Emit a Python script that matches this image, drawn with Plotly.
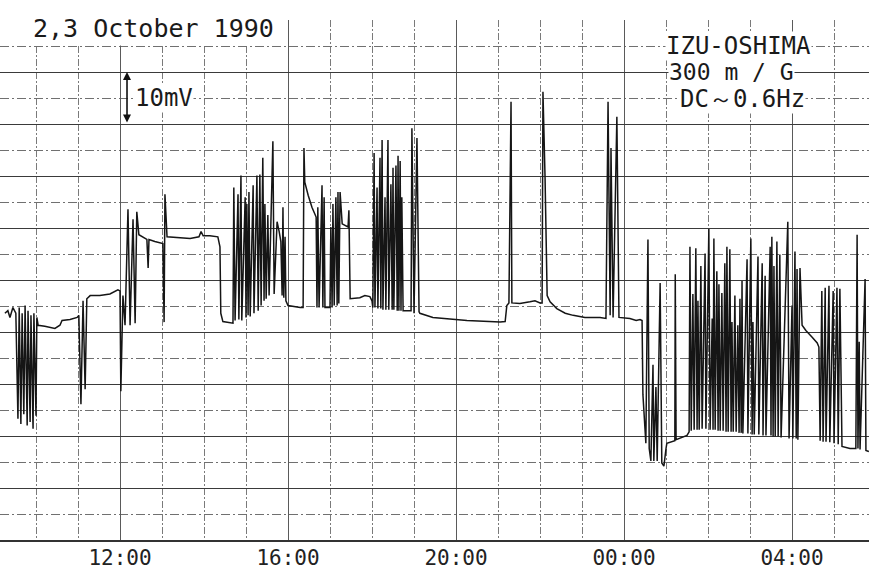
import plotly.graph_objects as go

# Time axis: hours from 00:00 on 2 Oct 1990 (24 = 00:00 on 3 Oct); potential in mV
tick_hours = [12, 16, 20, 24, 28]
tick_labels = ["12:00", "16:00", "20:00", "00:00", "04:00"]

t_morning = [9.26, 9.33, 9.38, 9.45, 9.52, 9.57, 9.60, 9.64, 9.67, 9.71, 9.74, 9.79, 9.81, 9.86, 9.88,
             9.93, 9.95, 10.00, 10.02, 10.05, 10.21, 10.45, 10.57, 10.62, 10.81, 10.98, 11.02, 11.07,
             11.12, 11.17, 11.21, 11.29, 11.52, 11.76, 11.95, 12.00]
mv_morning = [43.6, 44.1, 42.8, 44.7, 43.6, 23.3, 44.7, 22.3, 43.6, 24.2, 45.1, 22.0, 44.1, 22.7, 43.2,
              21.4, 43.6, 23.9, 42.8, 41.3, 41.1, 40.7, 41.3, 42.2, 42.4, 42.8, 43.2, 26.1,
              46.0, 29.0, 46.4, 47.0, 47.0, 47.3, 48.1, 47.9]

t_noon = [12.02, 12.07, 12.12, 12.19, 12.24, 12.31, 12.36, 12.40, 12.45, 12.60, 12.64, 12.67, 12.69,
          12.83, 13.02, 13.05, 13.07, 13.12, 13.43, 13.67, 13.88, 13.93, 13.98, 14.14, 14.33, 14.38,
          14.40, 14.45, 14.69]
mv_noon = [28.6, 47.0, 41.3, 63.6, 41.3, 61.7, 41.7, 63.1, 58.7, 58.1, 57.8, 52.3, 57.8,
           57.4, 57.0, 41.9, 66.5, 58.3, 58.1, 58.0, 58.3, 59.3, 58.5, 58.5, 58.3, 56.4,
           43.6, 42.0, 41.7]

t_cluster1 = [14.71, 14.74, 14.81, 14.83, 14.88, 14.90, 14.98, 15.00, 15.02, 15.05, 15.07, 15.10,
              15.17, 15.19, 15.26, 15.29, 15.33, 15.36, 15.40, 15.43, 15.45, 15.48, 15.52, 15.55,
              15.64, 15.67, 15.74, 15.79, 15.83, 15.86, 15.88, 15.90, 15.93, 15.95, 16.00]
mv_cluster1 = [67.8, 42.2, 66.5, 42.4, 70.1, 42.2, 65.9, 42.8, 64.6, 43.2, 66.9, 43.0,
               68.2, 43.6, 70.1, 44.1, 70.3, 45.1, 73.5, 46.0, 64.6, 46.4, 62.5, 47.0,
               76.7, 47.3, 61.2, 59.3, 57.4, 47.0, 64.0, 46.6, 58.3, 46.0, 45.1]

t_afternoon = [16.29, 16.36, 16.38, 16.40, 16.48, 16.57, 16.67, 16.69, 16.71, 16.74, 16.81, 16.83,
               16.86, 16.88, 17.00, 17.02, 17.05, 17.07, 17.10, 17.14, 17.17, 17.19, 17.21, 17.24,
               17.29, 17.43, 17.45, 17.48, 17.71, 17.83, 17.95, 18.00]
mv_afternoon = [44.7, 44.7, 75.4, 68.8, 66.3, 64.0, 62.1, 44.7, 64.0, 44.7, 68.2, 44.7,
                65.9, 44.7, 44.7, 60.2, 44.7, 64.6, 45.1, 65.9, 45.1, 66.9, 45.5, 66.9,
                60.8, 60.2, 63.4, 46.4, 46.6, 47.0, 46.8, 46.0]

t_evening = [18.02, 18.05, 18.07, 18.12, 18.14, 18.19, 18.21, 18.24, 18.26, 18.31, 18.33, 18.38,
             18.40, 18.45, 18.48, 18.50, 18.52, 18.57, 18.60, 18.62, 18.64, 18.67, 18.69, 18.71,
             18.74, 18.93, 18.95, 19.00, 19.07, 19.12, 19.14, 19.45, 20.26, 21.05, 21.17, 21.21,
             21.26, 21.31, 21.33, 21.52, 21.76, 21.88, 22.00, 22.05, 22.07, 22.12, 22.17, 22.24,
             22.40, 22.60, 22.79, 23.07, 23.43, 23.57, 23.62, 23.67, 23.69, 23.74, 23.83, 23.88,
             24.14, 24.29, 24.38, 24.43]
mv_evening = [44.7, 74.4, 44.7, 67.8, 44.5, 73.5, 44.5, 76.9, 44.3, 65.9, 44.3, 76.9,
              44.3, 68.4, 44.3, 71.6, 44.3, 72.0, 44.1, 73.9, 44.1, 72.9, 44.1, 65.9,
              44.1, 44.1, 79.2, 43.6, 77.3, 43.9, 43.6, 42.8, 42.2, 41.9, 42.0, 45.1,
              45.6, 84.3, 45.6, 45.5, 45.8, 46.0, 45.6, 45.6, 86.2, 69.7, 47.0, 45.8,
              44.5, 43.6, 43.2, 42.8, 42.8, 42.6, 84.3, 43.2, 75.4, 42.8, 81.4, 42.8,
              42.6, 42.2, 42.4, 42.2]

t_night = [24.45, 24.52, 24.57, 24.60, 24.64, 24.69, 24.71, 24.76, 24.79, 24.86, 24.90, 24.95,
           25.00, 25.02, 25.21, 25.22, 25.24, 25.50, 25.55]
mv_night = [28.0, 18.6, 57.8, 17.6, 15.2, 33.7, 15.2, 29.4, 15.2, 49.4, 14.8, 14.2,
            17.6, 18.6, 19.1, 51.1, 19.3, 20.1, 20.8]

t_cluster3 = [25.57, 25.60, 25.64, 25.67, 25.71, 25.74, 25.76, 25.79, 25.83, 25.86, 25.93, 25.95,
              26.02, 26.05, 26.10, 26.12, 26.14, 26.17, 26.21, 26.24, 26.26, 26.29, 26.33, 26.36,
              26.40, 26.43, 26.45, 26.48, 26.52, 26.55, 26.57, 26.60, 26.64, 26.67, 26.71, 26.74,
              26.76, 26.79, 26.81, 26.83, 26.93, 26.95, 27.02, 27.05, 27.07, 27.10, 27.19, 27.21,
              27.29, 27.31, 27.36, 27.38, 27.48, 27.50, 27.52, 27.55, 27.57, 27.60, 27.64, 27.67,
              27.71, 27.74, 27.90, 27.93, 28.00, 28.02, 28.07, 28.10, 28.12, 28.14, 28.19]
mv_cluster3 = [56.4, 21.0, 47.3, 21.2, 56.1, 21.2, 46.0, 21.2, 52.7, 21.4, 55.1, 21.4,
               59.8, 21.2, 42.6, 21.2, 58.0, 21.2, 51.7, 21.0, 49.2, 21.0, 47.5, 21.0,
               53.2, 20.8, 56.4, 20.8, 55.9, 20.8, 41.9, 20.8, 47.0, 20.8, 41.3, 20.6,
               46.4, 20.6, 49.8, 20.5, 54.0, 20.5, 58.0, 20.3, 41.9, 20.3, 54.5, 20.3,
               53.2, 20.1, 50.8, 20.1, 56.4, 20.1, 58.3, 19.9, 52.7, 19.9, 57.4, 19.9,
               54.9, 19.7, 61.2, 19.5, 45.1, 19.5, 55.5, 19.5, 52.1, 19.3, 52.3]

t_dawn = [28.24, 28.33, 28.48, 28.60, 28.64, 28.67, 28.71, 28.74, 28.79, 28.81, 28.88, 28.90,
          28.98, 29.00, 29.07, 29.10, 29.14, 29.19, 29.38, 29.52, 29.55, 29.57, 29.60, 29.62,
          29.74, 29.76, 29.83]
mv_dawn = [41.3, 40.3, 39.0, 37.9, 37.1, 19.1, 47.9, 18.9, 48.5, 18.9, 48.9, 18.8,
           47.9, 18.6, 48.5, 18.4, 48.3, 18.0, 17.6, 17.6, 58.7, 17.6, 38.1, 17.4,
           50.2, 17.2, 17.0]

segments_t = [t_morning, t_noon, t_cluster1, t_afternoon, t_evening, t_night, t_cluster3, t_dawn]
segments_mv = [mv_morning, mv_noon, mv_cluster1, mv_afternoon, mv_evening, mv_night, mv_cluster3, mv_dawn]
trace_t = [v for seg in segments_t for v in seg]
trace_mv = [v for seg in segments_mv for v in seg]

MONO = "DejaVu Sans Mono, monospace"

fig = go.Figure()
fig.add_trace(go.Scatter(x=trace_t, y=trace_mv, mode="lines",
                         line=dict(color="#151515", width=1.5), hoverinfo="skip"))

fig.update_layout(
    width=869, height=570,
    margin=dict(l=0, r=0, t=20, b=22),
    paper_bgcolor="white", plot_bgcolor="white",
    showlegend=False,
    xaxis=dict(range=[9.1429, 29.833], tickvals=tick_hours, ticktext=tick_labels,
               showgrid=True, gridcolor="#5a5a5a", gridwidth=1, griddash="solid",
               minor=dict(tickmode="linear", tick0=0, dtick=1, showgrid=True,
                          gridcolor="#7a7a7a", gridwidth=1, griddash="7px,2px,2px,2px"),
               ticks="", zeroline=False, showline=True, linecolor="#333", linewidth=2,
               ticklabelstandoff=-2,
               tickfont=dict(family=MONO, size=21, color="#222")),
    yaxis=dict(range=[0, 100], tick0=0, dtick=10, showticklabels=False,
               showgrid=True, gridcolor="#3a3a3a", gridwidth=1.3,
               minor=dict(tickmode="linear", tick0=5, dtick=10, showgrid=True,
                          gridcolor="#707070", gridwidth=1, griddash="9px,3px,2px,3px"),
               ticks="", zeroline=False),
)

fig.add_annotation(text="2,3 October 1990", xref="paper", yref="paper",
                   x=30 / 869, y=1 - 9 / 528, xanchor="left", yanchor="middle", showarrow=False,
                   font=dict(family=MONO, size=25, color="#1a1a1a"),
                   bgcolor="white", borderpad=2)

for txt, xc, yc, fs in [("IZU-OSHIMA", 738, 46, 24), ("300 m / G", 731, 73, 23),
                        ("DC～0.6Hz", 742, 100, 24)]:
    fig.add_annotation(text=txt, xref="paper", yref="paper",
                       x=xc / 869, y=1 - (yc - 20) / 528, xanchor="center", yanchor="middle",
                       showarrow=False, font=dict(family=MONO, size=fs, color="#1a1a1a"),
                       bgcolor="white", borderpad=0)

# 10 mV scale bar
fig.add_annotation(x=12.167, y=90, ax=12.167, ay=80, xref="x", yref="y", axref="x", ayref="y",
                   text="", showarrow=True, arrowside="end+start", arrowhead=2, arrowsize=1,
                   arrowwidth=1.6, arrowcolor="#111")
fig.add_annotation(text="10mV", x=12.34, y=85, xref="x", yref="y", xanchor="left",
                   yanchor="middle", showarrow=False,
                   font=dict(family=MONO, size=24, color="#1a1a1a"), bgcolor="white", borderpad=0)

fig.write_html("out.html", config={"displayModeBar": False},
               post_script="document.body.style.margin='0';document.body.style.overflow='hidden';")
